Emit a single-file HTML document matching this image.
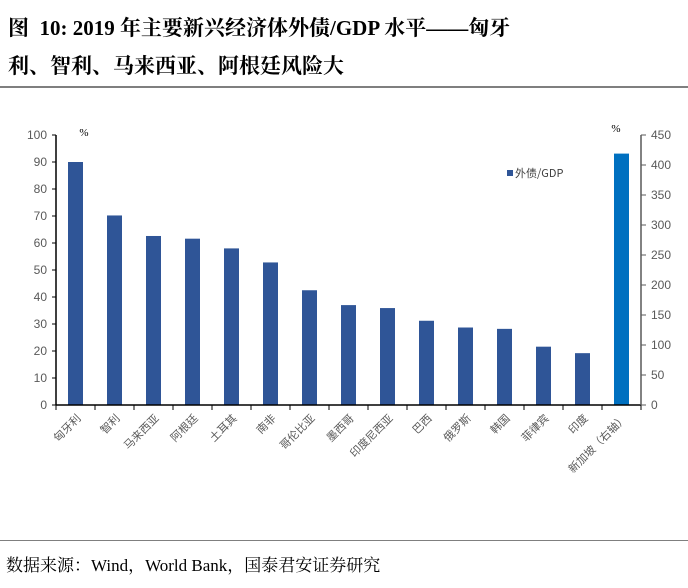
<!DOCTYPE html>
<html><head><meta charset="utf-8">
<style>
body{margin:0;width:688px;height:588px;background:#fff;overflow:hidden;font-family:"Liberation Serif","Noto Serif CJK SC",serif}
.t{position:absolute;left:8px;font-weight:bold;font-size:21px;color:#000;white-space:nowrap}
</style></head><body>
<div class="t" style="top:12px">图&nbsp; 10: 2019 年主要新兴经济体外债/GDP 水平——匈牙</div>
<div class="t" style="top:50px">利、智利、马来西亚、阿根廷风险大</div>
<div style="position:absolute;left:0;top:86px;width:688px;height:2px;background:#7f7f7f"></div>
<div style="position:absolute;left:0;top:540px;width:688px;height:1px;background:#7f7f7f"></div>
<div style="position:absolute;left:6px;top:551px;font-size:17px;font-family:'Liberation Serif','Noto Serif CJK SC',serif">数据来源：Wind，World Bank，国泰君安证券研究</div>
<svg id="c" width="688" height="588" style="position:absolute;left:0;top:0"></svg>
<script>
const categories=["匈牙利","智利","马来西亚","阿根廷","土耳其","南非","哥伦比亚","墨西哥","印度尼西亚","巴西","俄罗斯","韩国","菲律宾","印度","新加坡（右轴）"];
const leftValues=[90,70.2,62.6,61.6,58,52.8,42.5,37,35.9,31.2,28.7,28.2,21.6,19.2];
const rightValues=[419];
const leftTicks=[0,10,20,30,40,50,60,70,80,90,100];
const rightTicks=[0,50,100,150,200,250,300,350,400,450];
const svg=document.getElementById('c');
const NS='http://www.w3.org/2000/svg';
const X0=56,X1=641,Y0=405,Y1=135;
const band=(X1-X0)/categories.length;
const yL=v=>Y0-(v/100)*(Y0-Y1);
const yR=v=>Y0-(v/450)*(Y0-Y1);
function mk(t,a){const e=document.createElementNS(NS,t);for(const k in a)e.setAttribute(k,a[k]);svg.appendChild(e);return e;}
categories.forEach((c,i)=>{
  const cx=X0+band*(i+0.5);
  const isR=i>=leftValues.length;
  const v=isR?rightValues[i-leftValues.length]:leftValues[i];
  const y=isR?yR(v):yL(v);
  const r=mk('rect',{x:cx-7.5,y:y,width:15,height:Y0-y,fill:isR?'#0070c0':'#2f5597'});
  
  
  const t=mk('text',{transform:`translate(${cx+6},${Y0+14}) rotate(-45)`,'text-anchor':'end','font-size':11,fill:'#595959','font-family':'Noto Sans CJK SC,sans-serif'});
  t.textContent=c;
  
  
  const tk=mk('line',{x1:X0+band*i,x2:X0+band*i,y1:Y0,y2:Y0+5,stroke:'#000'});
});
mk('line',{x1:X1,x2:X1,y1:Y0,y2:Y0+5,stroke:'#000'});
mk('line',{x1:X0,x2:X1,y1:Y0,y2:Y0,stroke:'#000','stroke-width':1.5});
mk('line',{x1:X0,x2:X0,y1:Y1,y2:Y0,stroke:'#000','stroke-width':1.5});
mk('line',{x1:X1,x2:X1,y1:Y1,y2:Y0,stroke:'#595959','stroke-width':1.5});
leftTicks.forEach(v=>{
  mk('line',{x1:X0-4,x2:X0,y1:yL(v),y2:yL(v),stroke:'#000'});
  const t=mk('text',{x:X0-9,y:yL(v)+4,'text-anchor':'end','font-size':12,fill:'#595959','font-family':'Liberation Sans,sans-serif'});
  t.textContent=v;
  
  
});
rightTicks.forEach(v=>{
  mk('line',{x1:X1,x2:X1+5,y1:yR(v),y2:yR(v),stroke:'#595959'});
  const t=mk('text',{x:X1+10,y:yR(v)+4,'font-size':12,fill:'#595959','font-family':'Liberation Sans,sans-serif'});
  t.textContent=v;
  
  
});
const u1=mk('text',{x:84,y:136,'text-anchor':'middle','font-size':11,fill:'#000'});u1.textContent='%';

const u2=mk('text',{x:616,y:132,'text-anchor':'middle','font-size':11,fill:'#000'});u2.textContent='%';

const lg=mk('rect',{x:507,y:170,width:6,height:6,fill:'#2f5597'});

const lt=mk('text',{x:515,y:177,'font-size':11,fill:'#404040','font-family':'Noto Sans CJK SC,sans-serif'});lt.textContent='外债/GDP';

</script>
</body></html>
